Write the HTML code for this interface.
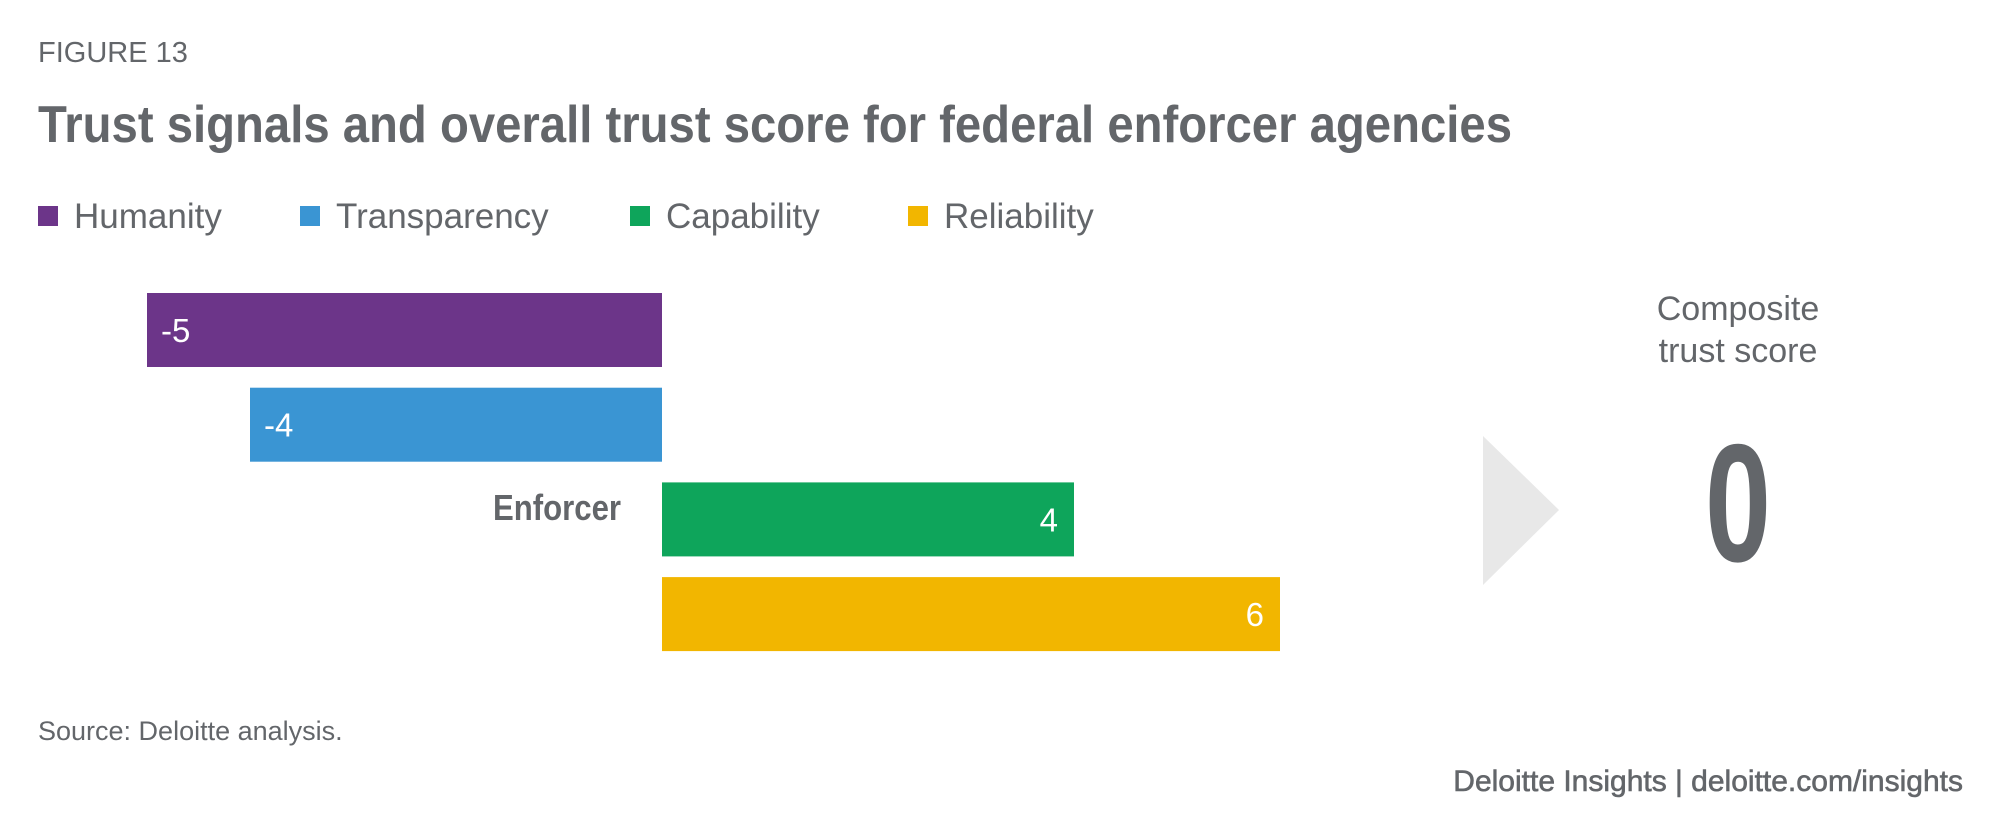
<!DOCTYPE html>
<html><head><meta charset="utf-8"><style>
body{margin:0;background:#fff;}
svg{display:block;}
text{font-family:"Liberation Sans",sans-serif;fill:#63666a;}
</style></head><body>
<svg id="chart" width="2000" height="838" viewBox="0 0 2000 838">
<text x="38" y="62" font-size="29">FIGURE 13</text>
<text x="38" y="142" font-size="52" font-weight="bold" textLength="1474" lengthAdjust="spacingAndGlyphs">Trust signals and overall trust score for federal enforcer agencies</text>
<g id="legend"></g>
<g id="bars"></g>
<text x="621" y="520" font-size="36" font-weight="bold" text-anchor="end" textLength="128" lengthAdjust="spacingAndGlyphs">Enforcer</text>
<polygon points="1483,436 1559,510 1483,585" fill="#e8e8e8"/>
<text x="1738" y="320" font-size="34" text-anchor="middle">Composite</text>
<text x="1738" y="362" font-size="34" text-anchor="middle">trust score</text>
<text x="1738" y="561" font-size="168" font-weight="bold" text-anchor="middle" textLength="66" lengthAdjust="spacingAndGlyphs">0</text>
<text x="38" y="740" font-size="27">Source: Deloitte analysis.</text>
<text x="1963" y="791" font-size="30" text-anchor="end" fill="#63666a" style="font-weight:normal;stroke:#63666a;stroke-width:0.6">Deloitte Insights | deloitte.com/insights</text>
</svg>
<script>
const series = ["Humanity","Transparency","Capability","Reliability"];
const values = [-5,-4,4,6];
const colors = ["#6c3589","#3a95d3","#0ea55b","#f2b600"];
const legendX = [38,300,630,908];

const NS="http://www.w3.org/2000/svg";
const x0=662, unit=103;
function xScale(v){return x0+v*unit;}
function yBand(i){return 293+i*94.7;}
const barH=74;
const lg=document.getElementById('legend');
series.forEach((s,i)=>{
  const r=document.createElementNS(NS,'rect');
  r.setAttribute('x',legendX[i]);r.setAttribute('y',206);r.setAttribute('width',20);r.setAttribute('height',20);r.setAttribute('fill',colors[i]);
  
  
  lg.appendChild(r);
  const t=document.createElementNS(NS,'text');
  t.setAttribute('x',legendX[i]+36);t.setAttribute('y',228);t.setAttribute('font-size','35');
  t.textContent=s;
  
  
  lg.appendChild(t);
});
const bg=document.getElementById('bars');
values.forEach((v,i)=>{
  const xa=Math.min(xScale(0),xScale(v)), w=Math.abs(xScale(v)-xScale(0));
  const y=yBand(i);
  const r=document.createElementNS(NS,'rect');
  r.setAttribute('x',xa);r.setAttribute('y',y);r.setAttribute('width',w);r.setAttribute('height',barH);r.setAttribute('fill',colors[i]);
  
  
  bg.appendChild(r);
  const t=document.createElementNS(NS,'text');
  t.setAttribute('y',y+barH/2+12);t.setAttribute('font-size','33');t.setAttribute('style','fill:#fff');
  if(v<0){t.setAttribute('x',xScale(v)+14);}
  else{t.setAttribute('x',xScale(v)-16);t.setAttribute('text-anchor','end');}
  t.textContent=String(v);
  
  
  bg.appendChild(t);
});
</script>
</body></html>
